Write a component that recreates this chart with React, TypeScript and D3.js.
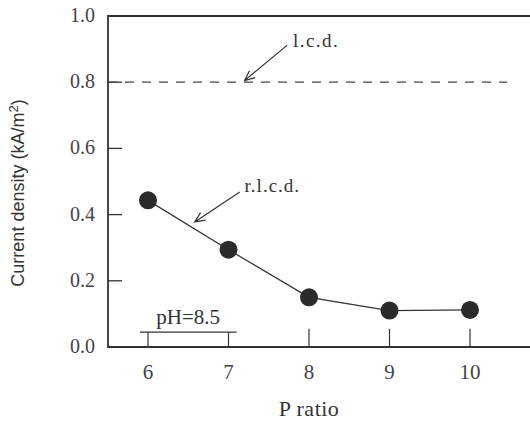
import * as d3 from "d3";

const pRatio = [6, 7, 8, 9, 10];
const rlcd = [0.443, 0.294, 0.15, 0.11, 0.112];
const lcd = 0.8;
const yTicks = [0, 0.2, 0.4, 0.6, 0.8, 1.0];
const xTicks = [6, 7, 8, 9, 10];

const W = 530;
const H = 421;

export default function App() {
  const x = d3.scaleLinear().domain([6, 10]).range([148, 470]);
  const y = d3.scaleLinear().domain([0, 1]).range([347, 16]);

  const left = 108;
  const serif = { fontFamily: "Liberation Serif, Times New Roman, serif" };
  const ink = "#333";

  const line = d3
    .line<number>()
    .x((d, i) => x(pRatio[i]))
    .y((d) => y(d));

  // open arrowhead at the tip
  const arrow = (x1: number, y1: number, x2: number, y2: number) => {
    const a = Math.atan2(y2 - y1, x2 - x1);
    const L = 11;
    const s = 0.42;
    const p1 = [x2 - L * Math.cos(a - s), y2 - L * Math.sin(a - s)];
    const p2 = [x2 - L * Math.cos(a + s), y2 - L * Math.sin(a + s)];
    return `M${x1},${y1}L${x2},${y2}M${p1[0]},${p1[1]}L${x2},${y2}L${p2[0]},${p2[1]}`;
  };

  return (
    <svg
      width={W}
      height={H}
      style={{ position: "absolute", left: 0, top: 0, background: "#fff" }}
    >
      {/* frame */}
      <path
        d={`M${W},${y(1)}H${left}V${y(0)}H${W}`}
        fill="none"
        stroke={ink}
        strokeWidth={1.8}
      />

      {/* y ticks */}
      {yTicks.map((t) => (
        <g key={t}>
          <line x1={left} x2={left + 14} y1={y(t)} y2={y(t)} stroke={ink} strokeWidth={1.3} />
          <text x={95} y={y(t) + 6} textAnchor="end" fontSize={20} fill="#444" style={serif}>
            {t.toFixed(1)}
          </text>
        </g>
      ))}

      {/* x ticks */}
      {xTicks.map((t) => (
        <g key={t}>
          <line
            x1={x(t)}
            x2={x(t)}
            y1={y(0)}
            y2={t < 8 ? y(0.045) : y(0.055)}
            stroke={ink}
            strokeWidth={1.2}
          />
          <text x={x(t)} y={379} textAnchor="middle" fontSize={21} fill="#444" style={serif}>
            {t}
          </text>
        </g>
      ))}

      {/* pH bracket */}
      <line x1={x(5.9)} x2={x(7.1)} y1={y(0.045)} y2={y(0.045)} stroke={ink} strokeWidth={1.2} />
      <text x={x(6.5)} y={y(0.07)} textAnchor="middle" fontSize={21} fill="#333" style={serif}>
        pH=8.5
      </text>

      {/* l.c.d. dashed */}
      <line
        x1={left}
        x2={507}
        y1={y(lcd)}
        y2={y(lcd)}
        stroke="#444"
        strokeWidth={1.2}
        strokeDasharray="9,8"
      />
      <path d={arrow(x(7.73), y(0.912), x(7.2), y(0.805))} fill="none" stroke={ink} strokeWidth={1.2} />
      <text x={x(7.8)} y={y(0.905)} fontSize={19} letterSpacing={1.5} fill="#333" style={serif}>
        l.c.d.
      </text>

      {/* r.l.c.d. series */}
      <path d={line(rlcd) || ""} fill="none" stroke={ink} strokeWidth={1.2} />
      {rlcd.map((v, i) => (
        <circle key={i} cx={x(pRatio[i])} cy={y(v)} r={9} fill="#2b2b2b" />
      ))}
      <path d={arrow(x(7.14), y(0.468), x(6.58), y(0.378))} fill="none" stroke={ink} strokeWidth={1.2} />
      <text x={x(7.2)} y={y(0.468)} fontSize={19} letterSpacing={1} fill="#333" style={serif}>
        r.l.c.d.
      </text>

      {/* axis titles */}
      <text x={x(8)} y={416} textAnchor="middle" fontSize={22} letterSpacing={0.5} fill="#333" style={serif}>
        P ratio
      </text>
      <text
        transform={`translate(24,${193}) rotate(-90)`}
        textAnchor="middle"
        fontSize={18}
        fill="#333"
        style={{ fontFamily: "Liberation Sans, Arial, sans-serif" }}
      >
        Current density (kA/m<tspan fontSize={13} dy={-6}>2</tspan>
        <tspan dy={6}>)</tspan>
      </text>
    </svg>
  );
}
